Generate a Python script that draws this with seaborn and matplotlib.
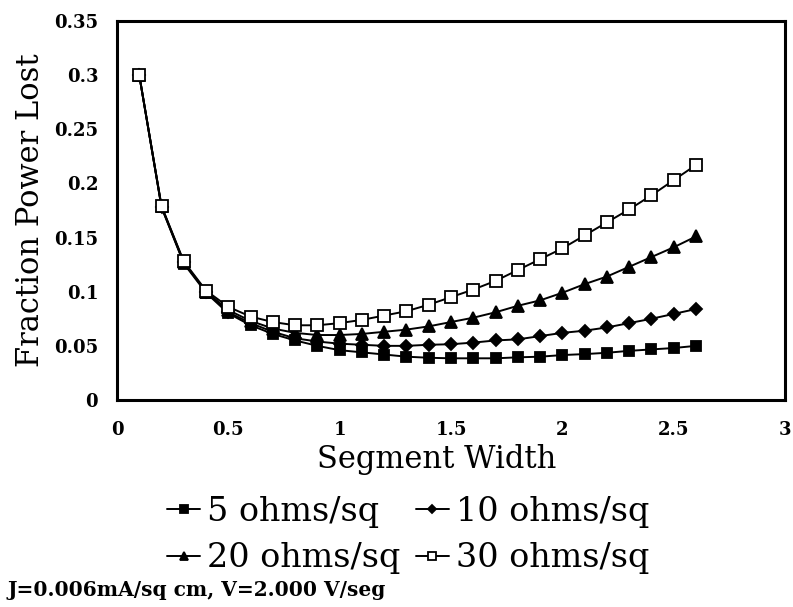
import matplotlib
matplotlib.use("Agg")
import matplotlib.pyplot as plt
import seaborn as sns
import numpy as np

widths = [0.1, 0.2, 0.3, 0.4, 0.5, 0.6, 0.7, 0.8, 0.9, 1.0, 1.1, 1.2, 1.3,
          1.4, 1.5, 1.6, 1.7, 1.8, 1.9, 2.0, 2.1, 2.2, 2.3, 2.4, 2.5, 2.6]
loss_5 = [0.300, 0.178, 0.126, 0.099, 0.080, 0.069, 0.061, 0.055, 0.050, 0.046,
          0.044, 0.042, 0.040, 0.039, 0.0385, 0.0385, 0.0385, 0.0394, 0.040, 0.0415,
          0.0424, 0.0436, 0.0454, 0.0467, 0.048, 0.050]
loss_10 = [0.300, 0.178, 0.127, 0.100, 0.081, 0.071, 0.063, 0.057, 0.054, 0.052,
           0.051, 0.050, 0.050, 0.051, 0.0515, 0.053, 0.055, 0.056, 0.059, 0.062,
           0.064, 0.067, 0.071, 0.075, 0.0795, 0.084]
loss_20 = [0.300, 0.179, 0.127, 0.100, 0.083, 0.073, 0.066, 0.062, 0.060, 0.060,
           0.061, 0.063, 0.065, 0.068, 0.072, 0.076, 0.081, 0.087, 0.092, 0.099,
           0.107, 0.114, 0.123, 0.132, 0.141, 0.151]
loss_30 = [0.300, 0.179, 0.128, 0.101, 0.086, 0.077, 0.072, 0.069, 0.069, 0.071,
           0.074, 0.078, 0.082, 0.088, 0.095, 0.102, 0.110, 0.120, 0.130, 0.140,
           0.152, 0.164, 0.176, 0.189, 0.203, 0.217]
labels = ["5 ohms/sq", "10 ohms/sq", "20 ohms/sq", "30 ohms/sq"]
x_ticks = [0, 0.5, 1, 1.5, 2, 2.5, 3]
x_tick_labels = ["0", "0.5", "1", "1.5", "2", "2.5", "3"]
y_ticks = [0, 0.05, 0.1, 0.15, 0.2, 0.25, 0.3, 0.35]
y_tick_labels = ["0", "0.05", "0.1", "0.15", "0.2", "0.25", "0.3", "0.35"]
note = "J=0.006mA/sq cm, V=2.000 V/seg"

sns.set_style("white")
plt.rcParams["font.family"] = ["DejaVu Serif"]
plt.rcParams["text.color"] = "black"
plt.rcParams["axes.labelcolor"] = "black"

fig = plt.figure(figsize=(7.93, 6.07), dpi=100)
ax = fig.add_axes([117 / 793, 1 - 400 / 607, (785 - 117) / 793, (400 - 21) / 607])

styles = [
    dict(marker="s", markerfacecolor="black", markersize=7),
    dict(marker="D", markerfacecolor="black", markersize=6),
    dict(marker="^", markerfacecolor="black", markersize=8),
    dict(marker="s", markerfacecolor="white", markersize=8),
]
series = [loss_5, loss_10, loss_20, loss_30]
for vals, lab, st in zip(series, labels, styles):
    sns.lineplot(x=widths, y=vals, ax=ax, color="black", linewidth=1.4,
                 markeredgecolor="black", markeredgewidth=1.3, label=lab, **st)

ax.set_xlim(0, 3)
ax.set_ylim(0, 0.35)
ax.set_xticks(x_ticks)
ax.set_xticklabels(x_tick_labels, fontsize=13, fontweight="bold")
ax.set_yticks(y_ticks)
ax.set_yticklabels(y_tick_labels, fontsize=13, fontweight="bold")
ax.tick_params(direction="in", length=5, width=1.5, colors="black")
ax.tick_params(axis="x", pad=15)
ax.tick_params(axis="y", pad=13.5)
for sp in ax.spines.values():
    sp.set_linewidth(2.2)
    sp.set_color("black")
ax.set_xlabel("Segment Width", fontsize=22, labelpad=4)
ax.xaxis.label.set_x((437 - 117) / 668)
ax.set_ylabel("Fraction Power Lost", fontsize=22, labelpad=6)

handles, labs = ax.get_legend_handles_labels()
ax.get_legend().remove()
order = [0, 2, 1, 3]
fig.legend([handles[i] for i in order], [labs[i] for i in order], ncol=2,
           loc="center", bbox_to_anchor=(408 / 793, 1 - 535 / 607),
           frameon=False, fontsize=24, handlelength=1.0, handletextpad=0.2,
           columnspacing=0.45, labelspacing=0.45, markerscale=0.75,
           borderpad=0.0)

fig.text(8 / 793, 1 - 590 / 607, note, fontsize=14.5, fontweight="bold",
         va="center", ha="left")

fig.savefig("out.png", dpi=100)
